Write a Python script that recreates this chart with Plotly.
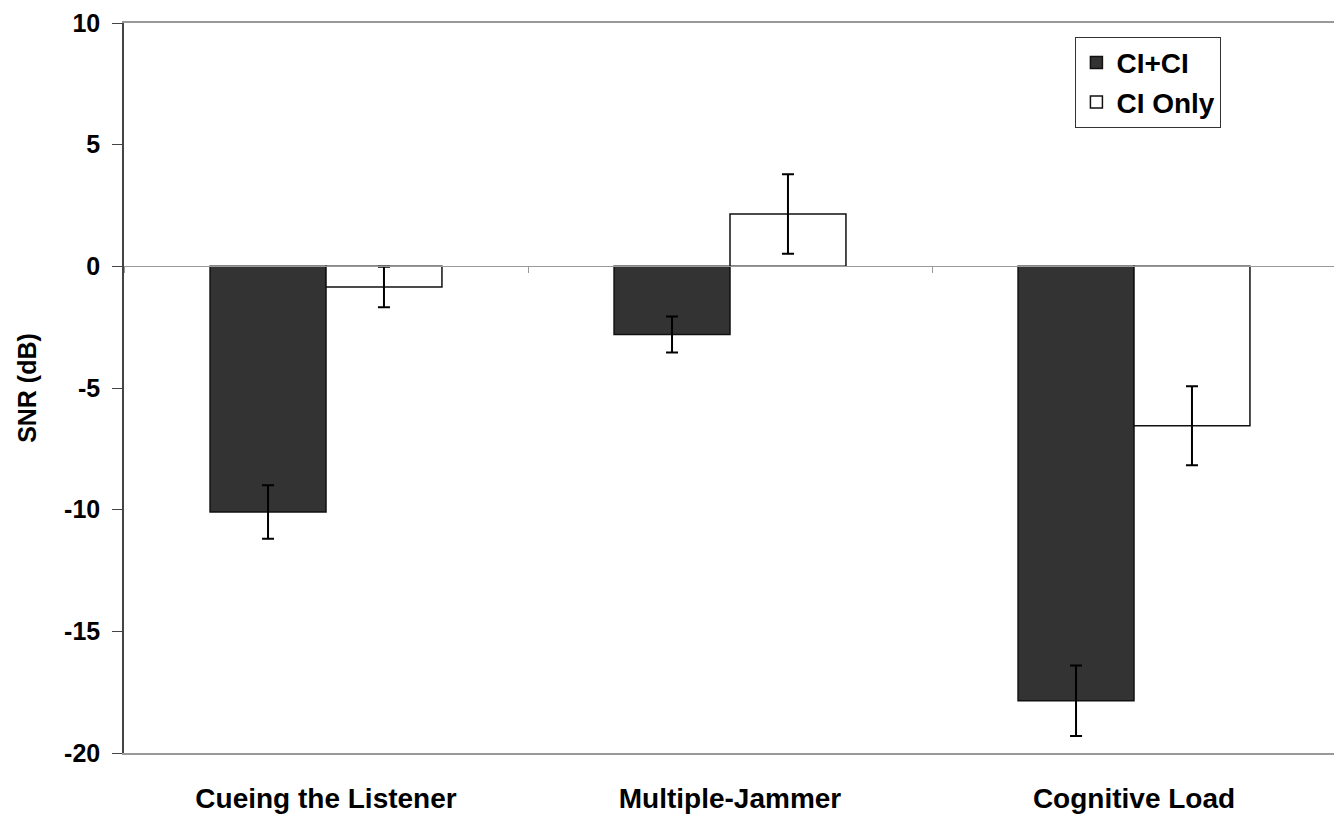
import plotly.graph_objects as go

categories = ["Cueing the Listener", "Multiple-Jammer", "Cognitive Load"]
ci_ci = [-10.1, -2.8, -17.85]
ci_ci_err = [1.1, 0.74, 1.45]
ci_only = [-0.85, 2.15, -6.55]
ci_only_err = [0.83, 1.63, 1.62]
y_ticks = [10, 5, 0, -5, -10, -15, -20]

FONT = "Liberation Sans"

fig = go.Figure()
fig.add_trace(go.Bar(
    name="CI+CI", x=categories, y=ci_ci,
    marker=dict(color="#333333", line=dict(color="#111111", width=1.5)),
    error_y=dict(type="data", array=ci_ci_err, color="black", thickness=2, width=6),
))
fig.add_trace(go.Bar(
    name="CI Only", x=categories, y=ci_only,
    marker=dict(color="white", line=dict(color="#111111", width=1.5)),
    error_y=dict(type="data", array=ci_only_err, color="black", thickness=2, width=6),
))
# invisible trace to host the zero-crossing category axis with boundary ticks
fig.add_trace(go.Scatter(x=categories, y=[None]*3, xaxis="x2", showlegend=False,
                         hoverinfo="skip", mode="markers"))

fig.update_layout(
    width=1334, height=807,
    margin=dict(l=116, r=6, t=15, b=62),
    plot_bgcolor="white", paper_bgcolor="white",
    barmode="group", bargap=0.426, bargroupgap=0,
    font=dict(family=FONT, color="black"),
    legend=dict(
        x=0.785, y=0.981, xanchor="left", yanchor="top",
        bordercolor="#333333", borderwidth=1, bgcolor="white",
        font=dict(family=FONT, size=28, color="black", weight="bold"),
        tracegroupgap=0, itemwidth=30,
    ),
    xaxis=dict(
        automargin=False,
        showline=True, linecolor="#999999", linewidth=2, mirror=True,
        ticks="", ticklabelstandoff=19,
        tickfont=dict(family=FONT, size=28, color="black", weight="bold"),
        showgrid=False, zeroline=False,
    ),
    xaxis2=dict(
        overlaying="x", anchor="free", position=2/3, matches="x",
        showline=True, linecolor="#999999", linewidth=1,
        ticks="outside", tickson="boundaries", ticklen=6, tickcolor="#999999",
        showticklabels=False, showgrid=False, zeroline=False,
    ),
    yaxis=dict(
        automargin=False,
        range=[-20, 10], tickvals=y_ticks, ticktext=[str(v) for v in y_ticks],
        showline=True, linecolor="#444444", linewidth=1.5,
        ticks="outside", ticklen=10, tickcolor="#444444", ticklabelstandoff=7,
        tickfont=dict(family=FONT, size=25, color="black", weight="bold"),
        showgrid=False, zeroline=False,
        title=dict(text="SNR (dB)", font=dict(family=FONT, size=25, color="black", weight="bold"),
                   standoff=20),
    ),
)

fig.write_html("out.html")
